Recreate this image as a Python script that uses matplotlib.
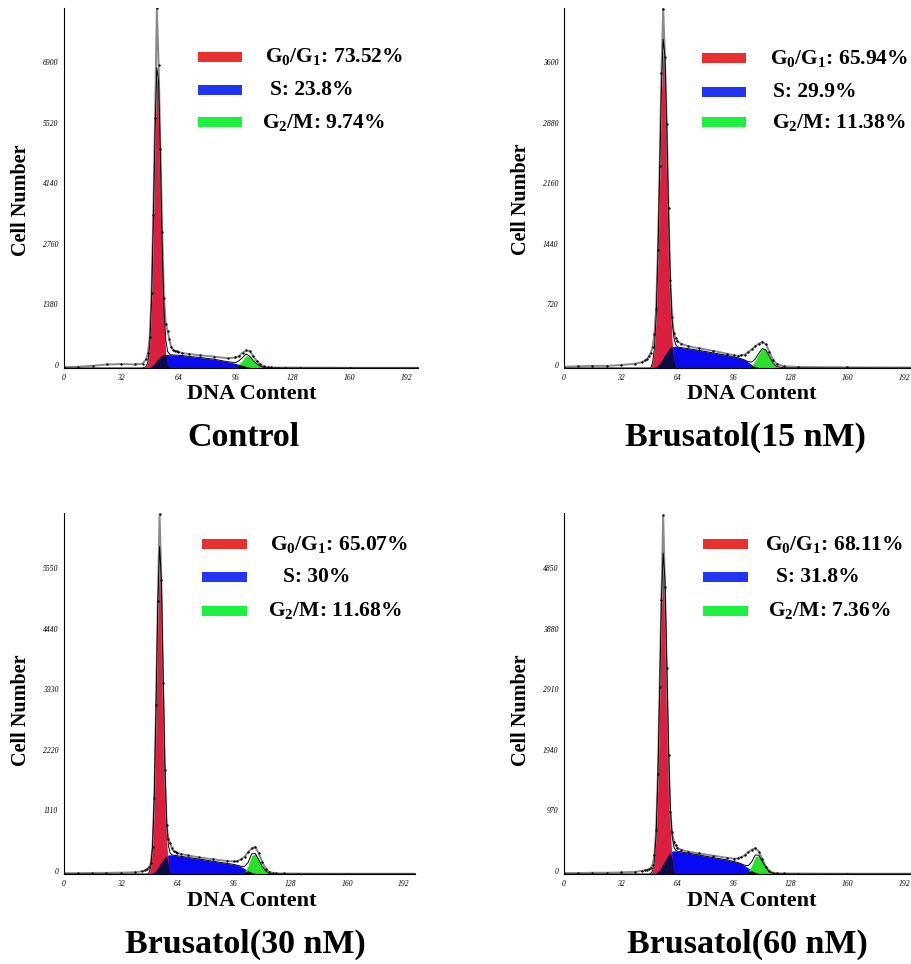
import numpy as np
import matplotlib
matplotlib.use("Agg")
import matplotlib.pyplot as plt
from matplotlib.patches import Rectangle

plt.rcParams['font.family'] = ['Liberation Serif', 'DejaVu Serif']
plt.rcParams['mathtext.fontset'] = 'custom'
plt.rcParams['mathtext.rm'] = 'Liberation Serif:bold'
plt.rcParams['mathtext.it'] = 'Liberation Serif:bold'
plt.rcParams['mathtext.bf'] = 'Liberation Serif:bold'

# channel grid (DNA content) shared by all histograms
channels = [0, 8, 16, 24, 32, 40, 44, 46,
            47, 48, 49, 50, 51, 52, 53, 54, 55, 56, 57, 58, 59, 60, 61, 62, 63, 64,
            66, 70, 76, 84, 92,
            96, 98, 100, 102, 104, 106, 108, 110, 112, 114, 116, 118, 120,
            124, 132, 160, 198]

# Control
ctrl_g1 = [0, 0, 0, 0, 0, 0, 0, 30,
           140, 520, 1490, 3240, 5340, 6670, 6300, 4520, 2460, 1010, 320, 75, 15, 0, 0, 0, 0, 0,
           0, 0, 0, 0, 0,
           0, 0, 0, 0, 0, 0, 0, 0, 0, 0, 0, 0, 0,
           0, 0, 0, 0]
ctrl_s = [0, 0, 0, 0, 0, 0, 0, 0,
          5, 15, 35, 70, 120, 175, 225, 265, 290, 305, 310, 308, 305, 300, 297, 294, 292, 290,
          285, 265, 240, 200, 140,
          105, 85, 60, 35, 15, 5, 0, 0, 0, 0, 0, 0, 0,
          0, 0, 0, 0]
ctrl_g2 = [0, 0, 0, 0, 0, 0, 0, 0,
           0, 0, 0, 0, 0, 0, 0, 0, 0, 0, 0, 0, 0, 0, 0, 0, 0, 0,
           0, 0, 0, 0, 0,
           20, 80, 180, 285, 250, 170, 95, 40, 10, 0, 0, 0, 0,
           0, 0, 0, 0]
ctrl_obs = [20, 30, 50, 80, 90, 80, 100, 200,
            350, 700, 1700, 3500, 5700, 8200, 6900, 5000, 3100, 1600, 1000, 850, 650, 480, 420, 390, 380, 370,
            340, 320, 290, 260, 220,
            240, 270, 350, 400, 380, 270, 160, 80, 35, 20, 15, 10, 10,
            10, 10, 5, 5]

# Brusatol 15 nM
b15_g1 = [0, 0, 0, 0, 0, 0, 0, 0,
          0, 0, 0, 64, 215, 584, 1282, 2273, 3261, 3785, 3550, 2695, 1653, 821, 329, 107, 28, 0,
          0, 0, 0, 0, 0,
          0, 0, 0, 0, 0, 0, 0, 0, 0, 0, 0, 0, 0,
          0, 0, 0, 0]
b15_s = [0, 0, 0, 0, 0, 0, 0, 0,
         0, 0, 0, 0, 5, 15, 30, 55, 85, 120, 155, 190, 220, 245, 255, 258, 255, 250,
         243, 230, 210, 180, 150,
         130, 120, 110, 95, 70, 40, 18, 6, 2, 0, 0, 0, 0,
         0, 0, 0, 0]
b15_g2 = [0, 0, 0, 0, 0, 0, 0, 0,
          0, 0, 0, 0, 0, 0, 0, 0, 0, 0, 0, 0, 0, 0, 0, 0, 0, 0,
          0, 0, 0, 0, 0,
          0, 0, 0, 0, 5, 30, 90, 170, 230, 215, 140, 60, 18,
          3, 0, 0, 0]
b15_obs = [15, 20, 25, 25, 35, 50, 70, 90,
           110, 140, 180, 250, 400, 700, 1400, 2400, 3500, 4270, 3700, 2900, 1900, 1050, 600, 420, 360, 320,
           290, 260, 235, 205, 170,
           150, 145, 150, 160, 190, 220, 260, 290, 310, 280, 190, 100, 50,
           20, 12, 8, 5]

# Brusatol 30 nM
b30_g1 = [0, 0, 0, 0, 0, 0, 0, 0,
          0, 23, 121, 476, 1395, 3030, 4885, 5840, 5185, 3413, 1668, 603, 163, 32, 0, 0, 0, 0,
          0, 0, 0, 0, 0,
          0, 0, 0, 0, 0, 0, 0, 0, 0, 0, 0, 0, 0,
          0, 0, 0, 0]
b30_s = [0, 0, 0, 0, 0, 0, 0, 0,
         0, 0, 5, 15, 35, 70, 115, 165, 215, 265, 305, 335, 350, 352, 350, 345, 340, 335,
         325, 305, 275, 235, 195,
         175, 160, 135, 100, 60, 30, 12, 4, 0, 0, 0, 0, 0,
         0, 0, 0, 0]
b30_g2 = [0, 0, 0, 0, 0, 0, 0, 0,
          0, 0, 0, 0, 0, 0, 0, 0, 0, 0, 0, 0, 0, 0, 0, 0, 0, 0,
          0, 0, 0, 0, 0,
          0, 0, 5, 40, 150, 340, 365, 260, 140, 55, 15, 3, 0,
          0, 0, 0, 0]
b30_obs = [15, 15, 20, 20, 25, 30, 50, 70,
           90, 120, 200, 500, 1400, 3100, 5000, 6600, 5400, 3500, 1900, 900, 650, 560, 470, 420, 400, 390,
           370, 340, 305, 270, 240,
           230, 240, 270, 320, 400, 470, 500, 380, 220, 100, 40, 20, 12,
           10, 8, 5, 5]

# Brusatol 60 nM
b60_g1 = [0, 0, 0, 0, 0, 0, 0, 0,
          0, 0, 9, 48, 193, 610, 1500, 2875, 4285, 4980, 4505, 3175, 1743, 745, 248, 64, 13, 0,
          0, 0, 0, 0, 0,
          0, 0, 0, 0, 0, 0, 0, 0, 0, 0, 0, 0, 0,
          0, 0, 0, 0]
b60_s = [0, 0, 0, 0, 0, 0, 0, 0,
         0, 0, 0, 0, 5, 15, 35, 70, 115, 165, 215, 265, 310, 345, 368, 372, 370, 365,
         355, 335, 305, 265, 225,
         200, 185, 165, 135, 95, 55, 25, 10, 3, 0, 0, 0, 0,
         0, 0, 0, 0]
b60_g2 = [0, 0, 0, 0, 0, 0, 0, 0,
          0, 0, 0, 0, 0, 0, 0, 0, 0, 0, 0, 0, 0, 0, 0, 0, 0, 0,
          0, 0, 0, 0, 0,
          0, 0, 0, 5, 40, 140, 280, 290, 200, 100, 35, 10, 2,
          0, 0, 0, 0]
b60_obs = [15, 15, 20, 20, 25, 35, 50, 60,
           70, 80, 100, 150, 300, 700, 1600, 3000, 4400, 5750, 4600, 3300, 1900, 1000, 680, 520, 460, 420,
           390, 360, 330, 295, 260,
           245, 250, 270, 300, 350, 390, 415, 360, 240, 120, 50, 20, 12,
           10, 8, 5, 5]

titles = ["Control", "Brusatol(15 nM)", "Brusatol(30 nM)", "Brusatol(60 nM)"]
g1_pct = ["73.52%", "65.94%", "65.07%", "68.11%"]
s_pct = ["23.8%", "29.9%", "30%", "31.8%"]
g2_pct = ["9.74%", "11.38%", "11.68%", "7.36%"]
ytick_step = [1380, 720, 1110, 970]
xticks = [0, 32, 64, 96, 128, 160, 192]

g1_all = [ctrl_g1, b15_g1, b30_g1, b60_g1]
s_all = [ctrl_s, b15_s, b30_s, b60_s]
g2_all = [ctrl_g2, b15_g2, b30_g2, b60_g2]
obs_all = [ctrl_obs, b15_obs, b30_obs, b60_obs]

# layout (pixels in a 911x964 figure)
W, H = 911, 964
ax_px = [(64, 8, 353.6, 360), (564, 8, 350.7, 360),
         (64, 513, 350.5, 361), (564, 513, 350.7, 361)]
y_tops = [8210, 4277, 6623, 5787]
bar_x = [(0.379, 0.503), (0.393, 0.52), (0.395, 0.523), (0.396, 0.524)]
text_x = [(0.568, 0.582, 0.559), (0.587, 0.595, 0.594),
          (0.588, 0.624, 0.582), (0.573, 0.604, 0.581)]
row_y = [(0.864, 0.772, 0.683), (0.861, 0.767, 0.683),
         (0.914, 0.823, 0.729), (0.914, 0.823, 0.729)]
title_pos = [(244, 437), (745, 437), (245, 944), (747, 944)]
xlab_pos = [(252, 394), (752, 394), (252, 901), (752, 901)]
ylab_pos = [(21, 200), (521, 199), (21, 710), (521, 710)]

RED, BLUE, GREEN = "#DC1F3F", "#0A0AF2", "#2BE02B"
NAVY, DARK = "#0B0B45", "#111111"
LEG_COLS = ["#E8302F", "#2235F2", "#1DF03F"]

fig = plt.figure(figsize=(W / 100, H / 100), dpi=100)
ch = np.array(channels, dtype=float)

for i in range(4):
    x0, y0, w, h = ax_px[i]
    ax = fig.add_axes([x0 / W, 1 - (y0 + h) / H, w / W, h / H])
    g1 = np.array(g1_all[i], dtype=float)
    s = np.array(s_all[i], dtype=float)
    g2 = np.array(g2_all[i], dtype=float)
    obs = np.array(obs_all[i], dtype=float)

    ax.fill_between(ch, 0, s, color=BLUE, lw=0, zorder=1)
    ax.fill_between(ch, 0, g1, color=RED, lw=0, zorder=2)
    ax.fill_between(ch, 0, np.minimum(g1, s), color=NAVY, lw=0, zorder=3)
    ax.fill_between(ch, 0, g2, color=GREEN, lw=0, zorder=2)
    ax.fill_between(ch, 0, np.minimum(g2, s), color=DARK, lw=0, zorder=3)

    ax.plot(ch, obs, color="#8a8a8a", lw=1.4, zorder=4)
    ax.plot(ch, g1 + s + g2, color="black", lw=0.7, zorder=5)
    ax.plot(ch, obs, ls="none", marker=".", ms=1.4, color="black", zorder=6)

    ax.set_xlim(0, 198)
    ax.set_ylim(0, y_tops[i])
    ax.set_xticks(xticks)
    ax.set_yticks([ytick_step[i] * k for k in range(6)])
    ax.tick_params(length=0, labelsize=5.5, pad=4)
    for lab in ax.get_xticklabels() + ax.get_yticklabels():
        lab.set_fontstyle("italic")
    for lab in ax.get_yticklabels():
        lab.set_va("baseline")
    for sp in ["top", "right"]:
        ax.spines[sp].set_visible(False)
    ax.spines["left"].set_linewidth(0.8)
    ax.spines["bottom"].set_linewidth(0.8)
    ax.patch.set_alpha(0)

    # legend
    labels = ["G$_0$/G$_1$: " + g1_pct[i], "S: " + s_pct[i], "G$_2$/M: " + g2_pct[i]]
    for k in range(3):
        bx0, bx1 = bar_x[i]
        ax.add_patch(Rectangle((bx0, row_y[i][k] - 0.014), bx1 - bx0, 0.028,
                               transform=ax.transAxes, color=LEG_COLS[k],
                               lw=0, clip_on=False))
        ax.text(text_x[i][k], row_y[i][k], labels[k], transform=ax.transAxes,
                fontsize=15.5, fontweight="bold", va="center", ha="left")

    fig.text(title_pos[i][0] / W, 1 - title_pos[i][1] / H, titles[i],
             fontsize=24.5, fontweight="bold", ha="center", va="center")
    fig.text(xlab_pos[i][0] / W, 1 - xlab_pos[i][1] / H, "DNA Content",
             fontsize=16, fontweight="bold", ha="center", va="center")
    fig.text(ylab_pos[i][0] / W, 1 - ylab_pos[i][1] / H, "Cell Number",
             fontsize=14.5, fontweight="bold", ha="center", va="center",
             rotation=90)

fig.savefig("out.png", dpi=100)
